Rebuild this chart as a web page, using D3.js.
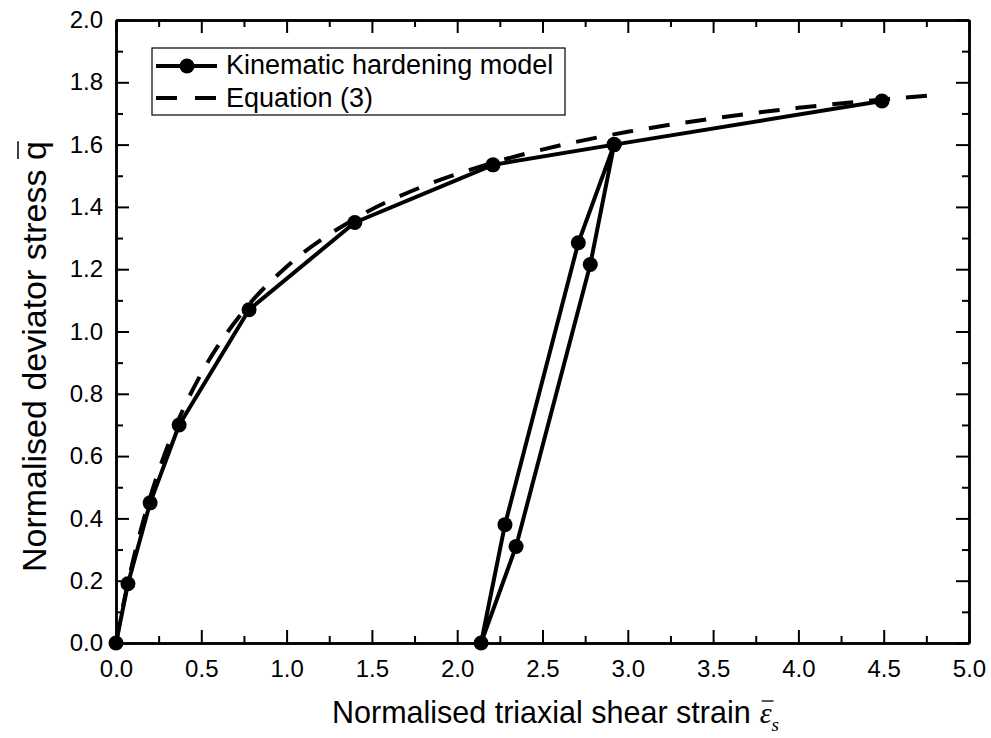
<!DOCTYPE html>
<html><head><meta charset="utf-8">
<script src="https://cdn.jsdelivr.net/npm/d3@7"></script>
<style>body{margin:0;background:#fff} svg{display:block}</style>
</head><body>
<svg id="chart" width="991" height="738"></svg>
<script>
// ---- data ----
const seriesNames = ["Kinematic hardening model", "Equation (3)"];
const modelStrain = [0, 0.07, 0.20, 0.37, 0.78, 1.40, 2.21, 2.92, 2.78, 2.345, 2.14, 2.28, 2.71, 2.92, 4.49];
const modelStress = [0, 0.19, 0.45, 0.70, 1.07, 1.35, 1.535, 1.60, 1.215, 0.31, 0, 0.38, 1.285, 1.60, 1.74];
const eqStrain = [0, 0.02, 0.05, 0.10, 0.20, 0.25, 0.35, 0.50, 0.75, 1.00, 1.40, 1.80, 2.20, 2.60, 3.00, 3.50, 4.00, 4.50, 4.82];
const eqStress = [0, 0.06, 0.142, 0.265, 0.467, 0.552, 0.696, 0.865, 1.067, 1.208, 1.362, 1.466, 1.54, 1.597, 1.641, 1.684, 1.718, 1.745, 1.76];
const xMajor = [0, 0.5, 1.0, 1.5, 2.0, 2.5, 3.0, 3.5, 4.0, 4.5, 5.0];
const xMinor = [0.25, 0.75, 1.25, 1.75, 2.25, 2.75, 3.25, 3.75, 4.25, 4.75];
const yMajor = [0, 0.2, 0.4, 0.6, 0.8, 1.0, 1.2, 1.4, 1.6, 1.8, 2.0];
const yMinor = [0.1, 0.3, 0.5, 0.7, 0.9, 1.1, 1.3, 1.5, 1.7, 1.9];
const xTitle = "Normalised triaxial shear strain";
const yTitle = "Normalised deviator stress";

// ---- layout ----
const L = 116, R = 969, T = 20, B = 643;
const FONT = "Arial, 'Liberation Sans', sans-serif";
const SERIF = "'Times New Roman', 'Liberation Serif', serif";
const svg = d3.select("#chart");
const x = d3.scaleLinear().domain([0, 5]).range([L, R]);
const y = d3.scaleLinear().domain([0, 2]).range([B, T]);
const fmt = d3.format(".1f");

function styleAxis(g, w) {
  g.selectAll("path.domain").attr("stroke", "#000").attr("stroke-width", w);
  g.selectAll(".tick line").attr("stroke", "#000").attr("stroke-width", 2);
  g.selectAll("text").attr("font-family", FONT).attr("font-size", 24).attr("fill", "#000");
}

// minor ticks (inward on all four sides)
svg.append("g").attr("transform", `translate(0,${B})`)
  .call(d3.axisBottom(x).tickValues(xMinor).tickSize(-7).tickSizeOuter(0).tickFormat(""))
  .call(g => styleAxis(g, 2.5));
svg.append("g").attr("transform", `translate(0,${T})`)
  .call(d3.axisTop(x).tickValues(xMinor).tickSize(-7).tickSizeOuter(0).tickFormat(""))
  .call(g => styleAxis(g, 2.5));
svg.append("g").attr("transform", `translate(${L},0)`)
  .call(d3.axisLeft(y).tickValues(yMinor).tickSize(-7).tickSizeOuter(0).tickFormat(""))
  .call(g => styleAxis(g, 2.5));
svg.append("g").attr("transform", `translate(${R},0)`)
  .call(d3.axisRight(y).tickValues(yMinor).tickSize(-7).tickSizeOuter(0).tickFormat(""))
  .call(g => styleAxis(g, 2.5));

// major ticks
svg.append("g").attr("transform", `translate(0,${B})`)
  .call(d3.axisBottom(x).tickValues(xMajor).tickSize(-13).tickSizeOuter(0).tickPadding(17).tickFormat(fmt))
  .call(g => styleAxis(g, 2.5));
svg.append("g").attr("transform", `translate(0,${T})`)
  .call(d3.axisTop(x).tickValues(xMajor).tickSize(-13).tickSizeOuter(0).tickFormat(""))
  .call(g => styleAxis(g, 2.5));
svg.append("g").attr("transform", `translate(${L},0)`)
  .call(d3.axisLeft(y).tickValues(yMajor).tickSize(-13).tickSizeOuter(0).tickPadding(13).tickFormat(fmt))
  .call(g => styleAxis(g, 2.5));
svg.append("g").attr("transform", `translate(${R},0)`)
  .call(d3.axisRight(y).tickValues(yMajor).tickSize(-13).tickSizeOuter(0).tickFormat(""))
  .call(g => styleAxis(g, 2.5));

// ---- series ----
const eqData = eqStrain.map((v, i) => [v, eqStress[i]]);
const modelData = modelStrain.map((v, i) => [v, modelStress[i]]);

svg.append("path").datum(eqData)
  .attr("d", d3.line().x(d => x(d[0])).y(d => y(d[1])).curve(d3.curveMonotoneX))
  .attr("fill", "none").attr("stroke", "#000").attr("stroke-width", 4)
  .attr("stroke-dasharray", "21,16");

svg.append("path").datum(modelData)
  .attr("d", d3.line().x(d => x(d[0])).y(d => y(d[1])))
  .attr("fill", "none").attr("stroke", "#000").attr("stroke-width", 4)
  .attr("stroke-linejoin", "round");

svg.append("g").selectAll("circle").data(modelData).join("circle")
  .attr("cx", d => x(d[0])).attr("cy", d => y(d[1])).attr("r", 7.5).attr("fill", "#000");

// ---- legend ----
const lg = svg.append("g");
lg.append("rect").attr("x", 152).attr("y", 48).attr("width", 413).attr("height", 67)
  .attr("fill", "#fff").attr("stroke", "#000").attr("stroke-width", 1.2);
lg.append("line").attr("x1", 156).attr("x2", 217).attr("y1", 66).attr("y2", 66)
  .attr("stroke", "#000").attr("stroke-width", 4);
lg.append("circle").attr("cx", 187).attr("cy", 66).attr("r", 7.5).attr("fill", "#000");
lg.append("line").attr("x1", 156).attr("x2", 217).attr("y1", 98).attr("y2", 98)
  .attr("stroke", "#000").attr("stroke-width", 4).attr("stroke-dasharray", "21,18");
lg.selectAll("text.lab").data(seriesNames).join("text").attr("class", "lab")
  .attr("x", 226).attr("y", (d, i) => 64 + i * 33).attr("dy", "0.36em")
  .attr("font-family", FONT).attr("font-size", 27).text(d => d);

// ---- axis titles ----
const TF = 30.5;
const xt = svg.append("text").attr("x", 332).attr("y", 723)
  .attr("font-family", FONT).attr("font-size", TF).text(xTitle);
const xtW = xt.node().getComputedTextLength();
const ex = 332 + xtW + 9;
const eps = svg.append("text").attr("x", ex).attr("y", 723)
  .attr("font-family", SERIF).attr("font-style", "italic")
  .attr("font-size", 30).text("ε");
const epsW = eps.node().getComputedTextLength();
svg.append("text").attr("x", ex + epsW).attr("y", 731)
  .attr("font-family", SERIF).attr("font-style", "italic")
  .attr("font-size", 19).text("s");
svg.append("line").attr("x1", ex + 2).attr("x2", ex + epsW + 2).attr("y1", 701).attr("y2", 701)
  .attr("stroke", "#000").attr("stroke-width", 1.3);

const YF = 34;
const yg = svg.append("g").attr("transform", "translate(46,572) rotate(-90)");
const yt = yg.append("text").attr("x", 0).attr("y", 0).attr("text-anchor", "start")
  .attr("font-family", FONT).attr("font-size", YF);
yt.append("tspan").text(yTitle + " ");
yt.append("tspan").text("q");
const qStart = yt.node().getSubStringLength(0, yTitle.length + 1);
const qW = yt.node().getSubStringLength(yTitle.length + 1, 1);
yg.append("line").attr("x1", qStart + 1).attr("x2", qStart + qW).attr("y1", -28).attr("y2", -28)
  .attr("stroke", "#000").attr("stroke-width", 1.5);
</script>
</body></html>
